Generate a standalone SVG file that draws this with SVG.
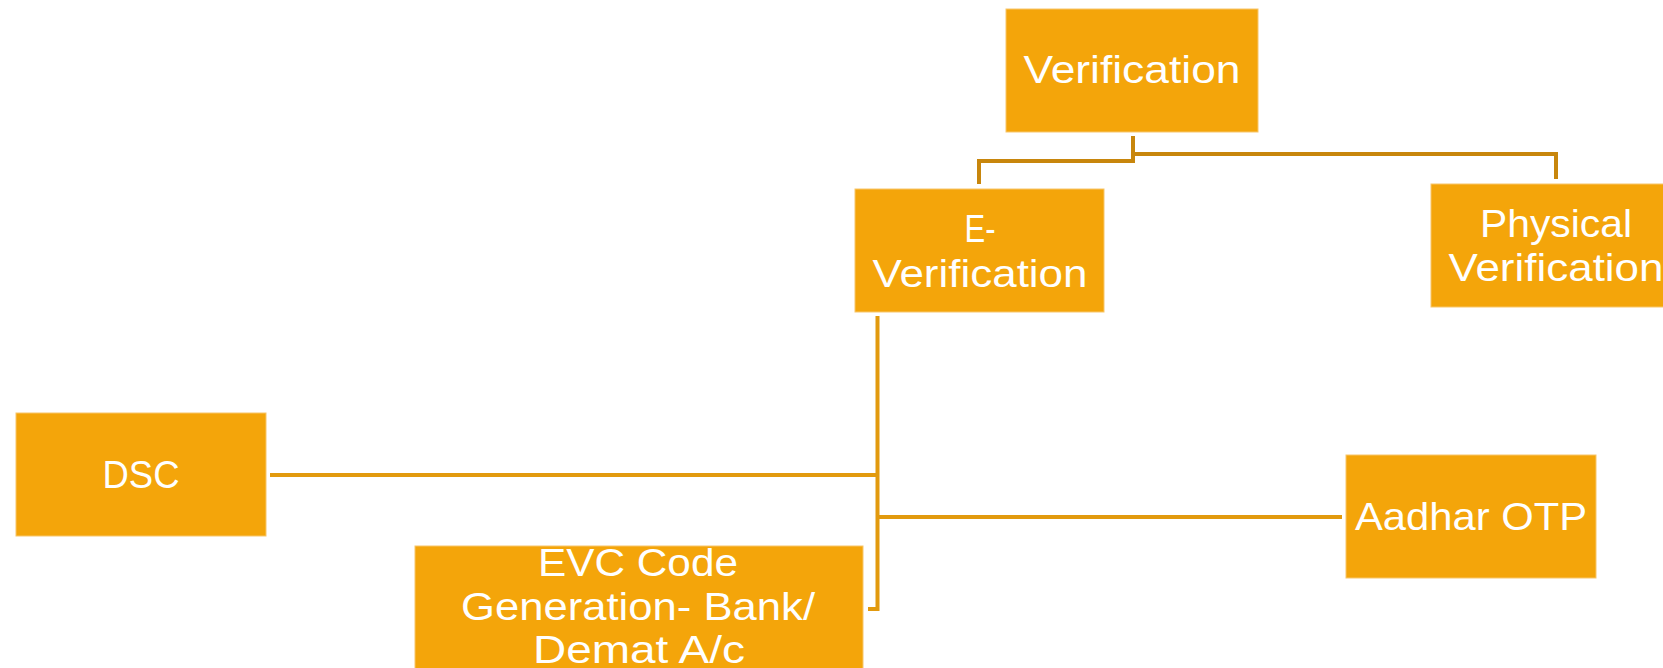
<svg xmlns="http://www.w3.org/2000/svg" width="1663" height="668" viewBox="0 0 1663 668">
<style>
.box{fill:#F4A50A;stroke:#F8C66A;stroke-width:1}
.t{font-family:"Liberation Sans",Arial,sans-serif;font-size:39px;fill:#FFFFFF;text-anchor:middle}
.c1{fill:none;stroke:#C8860C;stroke-width:4}
.c2{fill:none;stroke:#E29A0E;stroke-width:4}
</style>
<rect width="1663" height="668" fill="#FFFFFF"/>
<g id="connectors">
<path class="c1" d="M1133,136 V161 H979 V184"/>
<path class="c1" d="M1133,154 H1556 V179"/>
<path class="c2" d="M877.5,316 V609 H868"/>
<path class="c2" d="M270,475 H876"/>
<path class="c2" d="M879,517 H1342"/>
</g>
<g id="node-verification">
<rect class="box" x="1006" y="9" width="252" height="123"/>
<text class="t" x="1132" y="83" textLength="217" lengthAdjust="spacingAndGlyphs">Verification</text>
</g>
<g id="node-e-verification">
<rect class="box" x="855" y="189" width="249" height="123"/>
<text class="t" x="980" y="242" textLength="31" lengthAdjust="spacingAndGlyphs">E-</text>
<text class="t" x="980" y="287" textLength="215" lengthAdjust="spacingAndGlyphs">Verification</text>
</g>
<g id="node-physical-verification">
<rect class="box" x="1431" y="184" width="249" height="123"/>
<text class="t" x="1556" y="237" textLength="152" lengthAdjust="spacingAndGlyphs">Physical</text>
<text class="t" x="1556" y="281" textLength="215" lengthAdjust="spacingAndGlyphs">Verification</text>
</g>
<g id="node-dsc">
<rect class="box" x="16" y="413" width="250" height="123"/>
<text class="t" x="141" y="488" textLength="77" lengthAdjust="spacingAndGlyphs">DSC</text>
</g>
<g id="node-evc">
<rect class="box" x="415" y="546" width="448" height="125"/>
<text class="t" x="638" y="576" textLength="200" lengthAdjust="spacingAndGlyphs">EVC Code</text>
<text class="t" x="638" y="620" textLength="354" lengthAdjust="spacingAndGlyphs">Generation- Bank/</text>
<text class="t" x="639" y="663" textLength="212" lengthAdjust="spacingAndGlyphs">Demat A/c</text>
</g>
<g id="node-aadhar">
<rect class="box" x="1346" y="455" width="250" height="123"/>
<text class="t" x="1471" y="530" textLength="232" lengthAdjust="spacingAndGlyphs">Aadhar OTP</text>
</g>
</svg>
